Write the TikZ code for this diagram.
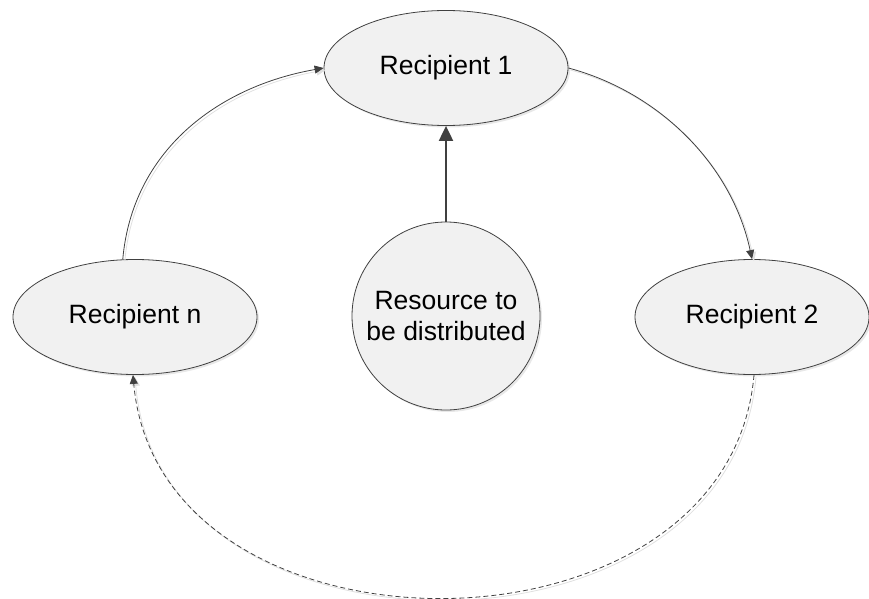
\documentclass[tikz,border=0pt]{standalone}
\usepackage{fontspec}
\setmainfont{Liberation Sans}
\usetikzlibrary{arrows.meta,shapes.geometric,shadows}

\definecolor{edge}{HTML}{404040}
\definecolor{bubble}{HTML}{F1F1F1}

\tikzset{
  party/.style={ellipse, draw=edge, line width=0.8pt, fill=bubble,
    inner sep=0pt, minimum width=244pt, minimum height=115pt,
    drop shadow={opacity=0.18, shadow xshift=2pt, shadow yshift=-2pt},
    font=\fontsize{26.5}{31.8}\selectfont},
  pool/.style={circle, draw=edge, line width=0.8pt, fill=bubble,
    inner sep=0pt, minimum size=188pt, align=center,
    drop shadow={opacity=0.18, shadow xshift=2pt, shadow yshift=-2pt},
    font=\fontsize{26.5}{31.8}\selectfont},
  handoff/.style={draw=edge, line width=0.8pt,
    -{Triangle[length=9pt,width=8pt]},
    preaction={draw=black!12, line width=0.8pt,
      transform canvas={xshift=2pt,yshift=-2pt}}},
  wrap/.style={handoff, dash pattern=on 5pt off 3pt},
  supply/.style={draw=edge, line width=2pt,
    -{Triangle[length=15pt,width=14pt]}}
}

\begin{document}
\begin{tikzpicture}[x=1pt,y=1pt]
  \useasboundingbox (0,0) rectangle (869,598);

  % the three recipients and the central resource
  \node[party] (r1) at (446,530) {Recipient 1};
  \node[party] (rn) at (135,281) {Recipient n};
  \node[party, minimum width=234pt] (r2) at (752,281) {Recipient 2};
  \node[pool] (res) at (446,282) {Resource to\\be distributed};

  % resource handed to the first recipient
  \draw[supply] (res.north) -- (r1.south);

  % passing the resource around the ring
  \draw[handoff] (rn.102) to[out=85, in=190] (r1.west);
  \draw[handoff] (r1.east) to[out=-15, in=102, looseness=0.92] (r2.north);
  \draw[wrap] (r2.-88) to[out=-95, in=-85, looseness=1.23] (rn.-92);
\end{tikzpicture}
\end{document}
